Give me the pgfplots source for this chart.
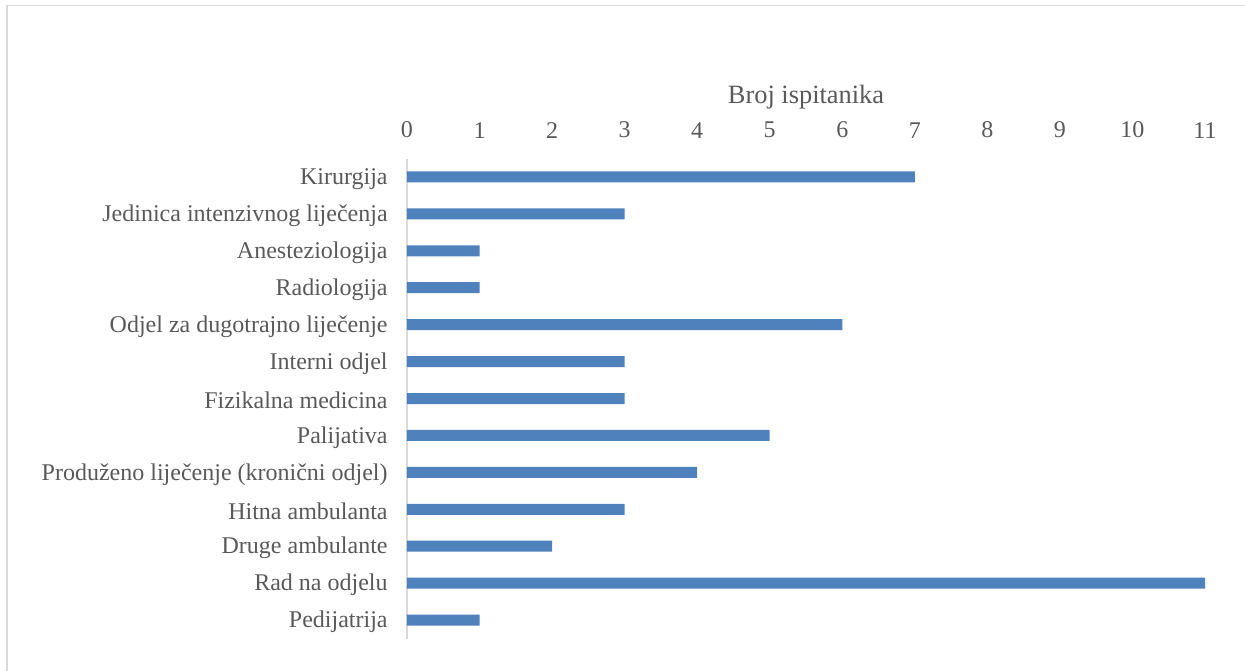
\documentclass[12pt,border=0pt]{standalone}
\usepackage{fontspec}
\setmainfont{Liberation Serif}
\usepackage{pgfplots}
\pgfplotsset{compat=1.18}
\definecolor{barblue}{HTML}{4F81BD}
\definecolor{txtgray}{HTML}{595959}
\definecolor{linegray}{HTML}{D9D9D9}
\begin{document}
\begin{tikzpicture}
\begin{axis}[
  name=main,
  scale only axis,
  width=399pt, height=240pt,
  xbar, bar width=5.5pt,
  xmin=0, xmax=11,
  ymin=-0.5, ymax=12.5,
  y dir=reverse,
  axis x line*=top,
  axis y line*=left,
  x axis line style={draw=none},
  y axis line style={draw=linegray, line width=0.75pt},
  xtick={0,1,...,11},
  ytick={0,...,12},
  yticklabels={Kirurgija,Jedinica intenzivnog liječenja,Anesteziologija,Radiologija,Odjel za dugotrajno liječenje,Interni odjel,Fizikalna medicina,Palijativa,Produženo liječenje (kronični odjel),Hitna ambulanta,Druge ambulante,Rad na odjelu,Pedijatrija},
  tick style={draw=none},
  major tick length=0pt,
  /pgf/number format/assume math mode=true,
  every tick label/.append style={text=txtgray},
  yticklabel style={xshift=-5.5pt, yshift=-1pt},
  xticklabel style={yshift=6pt},
  xlabel={Broj ispitanika},
  xlabel style={text=txtgray, font=\rmfamily\fontsize{13.2}{15}\selectfont, yshift=-2pt},
]
\addplot[fill=barblue, draw=none] coordinates {
(7,0) (3,1) (1,2) (1,3) (6,4) (3,5) (3,6) (5,7) (4,8) (3,9) (2,10) (11,11) (1,12)};
\end{axis}
\pgfresetboundingbox
\path[use as bounding box] ([xshift=-203.5pt,yshift=-15.75pt]main.south west) rectangle ++(622.5pt,335pt);
\draw[linegray, line width=0.75pt] ([xshift=-200pt,yshift=-20pt]main.south west) -- ([xshift=-200pt,yshift=316.5pt]main.south west) -- ([xshift=430pt,yshift=316.5pt]main.south west);
\end{tikzpicture}
\end{document}
